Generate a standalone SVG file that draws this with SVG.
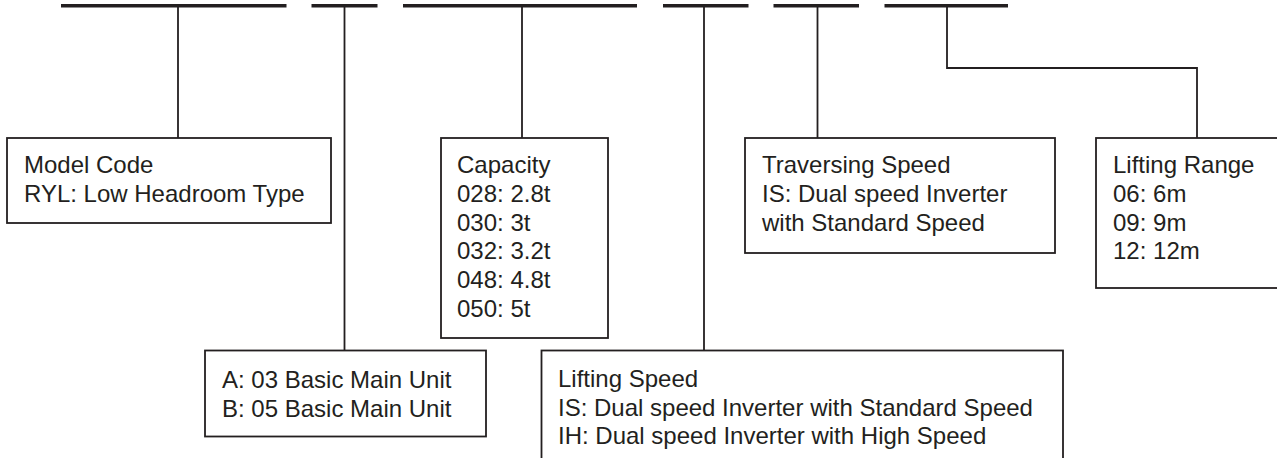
<svg xmlns="http://www.w3.org/2000/svg" width="1277" height="458" viewBox="0 0 1277 458">
<style>
  .bar { stroke: #231f20; stroke-width: 3.6; fill: none; }
  .box { fill: #ffffff; stroke: #231f20; stroke-width: 1.8; }
  .conn { stroke: #231f20; stroke-width: 1.8; fill: none; }
  .t { font-family: "Liberation Sans", Arial, sans-serif; font-size: 24px; fill: #231f20; }
</style>
<rect width="1277" height="458" fill="#ffffff"/>
<g id="segments">
  <line class="bar" x1="61" y1="5.7" x2="286.5" y2="5.7"/>
  <line class="bar" x1="311.5" y1="5.7" x2="377.5" y2="5.7"/>
  <line class="bar" x1="403" y1="5.7" x2="637" y2="5.7"/>
  <line class="bar" x1="663" y1="5.7" x2="748.5" y2="5.7"/>
  <line class="bar" x1="773.5" y1="5.7" x2="859" y2="5.7"/>
  <line class="bar" x1="884.5" y1="5.7" x2="1008" y2="5.7"/>
</g>
<g id="connectors">
  <path class="conn" d="M178 7 V138"/>
  <path class="conn" d="M344.5 7 V350.5"/>
  <path class="conn" d="M522 7 V138"/>
  <path class="conn" d="M704 7 V350.5"/>
  <path class="conn" d="M817.5 7 V138"/>
  <path class="conn" d="M947 7 V68 H1197 V138"/>
</g>
<g id="model-code">
  <rect class="box" x="7" y="138" width="324" height="85"/>
  <text class="t" x="24" y="173">Model Code</text>
  <text class="t" x="24" y="202">RYL: Low Headroom Type</text>
</g>
<g id="capacity">
  <rect class="box" x="441" y="138" width="167" height="200"/>
  <text class="t" x="457" y="173">Capacity</text>
  <text class="t" x="457" y="202">028: 2.8t</text>
  <text class="t" x="457" y="230.5">030: 3t</text>
  <text class="t" x="457" y="259">032: 3.2t</text>
  <text class="t" x="457" y="288">048: 4.8t</text>
  <text class="t" x="457" y="316.5">050: 5t</text>
</g>
<g id="traversing-speed">
  <rect class="box" x="745" y="138" width="310" height="115"/>
  <text class="t" x="762" y="173">Traversing Speed</text>
  <text class="t" x="762" y="202">IS: Dual speed Inverter</text>
  <text class="t" x="762" y="230.5">with Standard Speed</text>
</g>
<g id="lifting-range">
  <rect class="box" x="1096" y="138" width="200" height="150"/>
  <text class="t" x="1113" y="173">Lifting Range</text>
  <text class="t" x="1113" y="202">06: 6m</text>
  <text class="t" x="1113" y="230.5">09: 9m</text>
  <text class="t" x="1113" y="259">12: 12m</text>
</g>
<g id="main-unit">
  <rect class="box" x="205" y="350.5" width="281" height="86"/>
  <text class="t" x="222" y="388">A: 03 Basic Main Unit</text>
  <text class="t" x="222" y="416.5">B: 05 Basic Main Unit</text>
</g>
<g id="lifting-speed">
  <rect class="box" x="541.5" y="350.5" width="521.5" height="130"/>
  <text class="t" x="558" y="387">Lifting Speed</text>
  <text class="t" x="558" y="415.5">IS: Dual speed Inverter with Standard Speed</text>
  <text class="t" x="558" y="444">IH: Dual speed Inverter with High Speed</text>
</g>
</svg>
